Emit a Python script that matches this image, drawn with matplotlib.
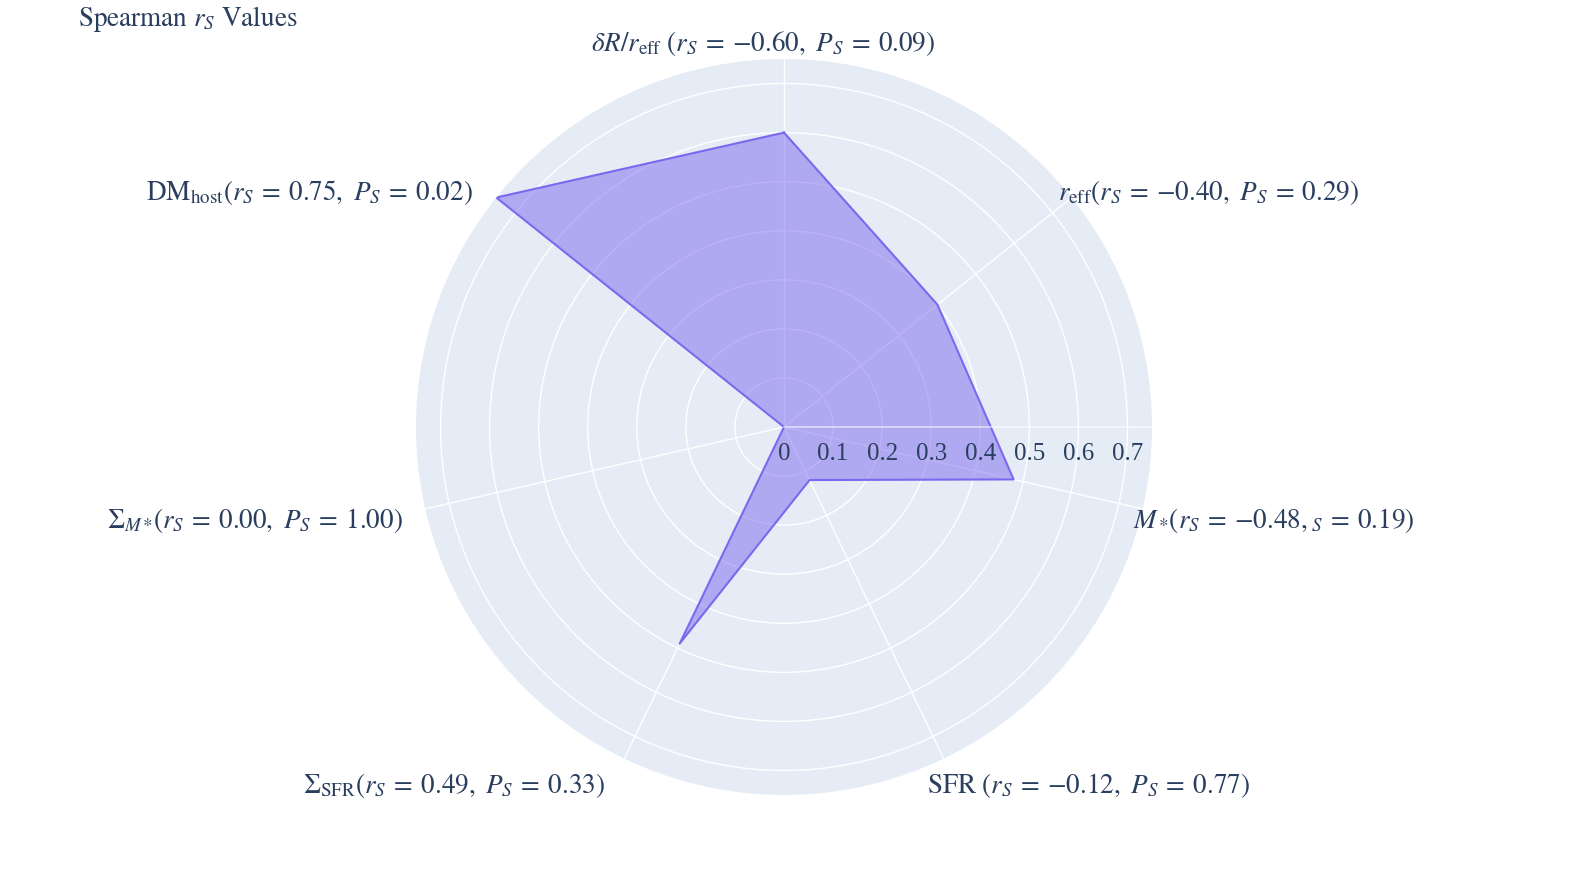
import numpy as np
import matplotlib
matplotlib.use("Agg")
import matplotlib.pyplot as plt

plt.rcParams['mathtext.fontset'] = 'stix'
plt.rcParams['font.family'] = ['STIXGeneral', 'DejaVu Sans']

# ---- data ----
categories = [
    r'$\delta R/r_{\rm eff}\ (r_S \:=\: -0.60,\ P_S \:=\: 0.09)$',
    r'$r_{\rm eff}(r_S \:=\: -0.40,\ P_S \:=\: 0.29)$',
    r'$M_*\!(r_S \:=\: -0.48,_S \:=\: 0.19)$',
    r'${\rm SFR}\ (r_S \:=\: -0.12,\ P_S \:=\: 0.77)$',
    r'$\Sigma_{\rm SFR}(r_S \:=\: 0.49,\ P_S \:=\: 0.33)$',
    r'$\Sigma_{M*}\!(r_S \:=\: 0.00,\ P_S \:=\: 1.00)$',
    r'${\rm DM_{host}}(r_S \:=\: 0.75,\ P_S \:=\: 0.02)$',
]
r_values = [0.60, 0.40, 0.48, 0.12, 0.49, 0.00, 0.75]
radial_ticks = [0, 0.1, 0.2, 0.3, 0.4, 0.5, 0.6, 0.7]
radial_tick_labels = ['0', '0.1', '0.2', '0.3', '0.4', '0.5', '0.6', '0.7']
r_max = 0.75
title_text = r'Spearman $r_S$ Values'

# ---- style ----
TEXT = '#2a3f5f'
BG = '#E5ECF6'
LINE = '#7B68EE'
label_offsets = [(-21, 16, 'center'), (-14, 6, 'left'), (-10, -11, 'left'),
                 (-17, -26, 'left'), (-19, -26, 'right'), (-22, -11, 'right'),
                 (-23, 6, 'right')]

W, H = 1571, 878
fig = plt.figure(figsize=(W / 100, H / 100), dpi=100)
cx, cy, R = 784, 428, 368
ax = fig.add_axes([(cx - R) / W, (H - cy - R) / H, 2 * R / W, 2 * R / H],
                  projection='polar')
ax.set_facecolor(BG)
ax.spines['polar'].set_visible(False)
ax.set_theta_zero_location('N')
ax.set_theta_direction(-1)
ax.set_ylim(0, r_max)
ax.set_axisbelow(True)

n = len(categories)
theta = 2 * np.pi * np.arange(n) / n
ax.set_xticks(theta)
ax.set_xticklabels([])
ax.set_yticks(radial_ticks[1:])
ax.set_yticklabels([])
ax.grid(True, color='white', linewidth=1)
ax.tick_params(length=0)

th_c = np.append(theta, theta[0])
r_c = np.append(r_values, r_values[0])
ax.fill(th_c, r_c, color=LINE, alpha=0.5, linewidth=0, zorder=2)
ax.plot(th_c, r_c, color=LINE, linewidth=1.5, zorder=3)

# radial axis line (at east)
ax.plot([np.pi / 2, np.pi / 2], [0, r_max], color='white', alpha=0.6,
        linewidth=1.2, zorder=4)
for v, lab in zip(radial_ticks, radial_tick_labels):
    ax.annotate(lab, xy=(np.pi / 2, v), xytext=(0, -26), textcoords='offset pixels',
                ha='center', va='center', fontsize=18, color=TEXT,
                family='Liberation Serif', zorder=6, annotation_clip=False)

for t, lab, (dx, dy, ha) in zip(theta, categories, label_offsets):
    ax.annotate(lab, xy=(t, r_max), xytext=(dx, dy), textcoords='offset pixels',
                ha=ha, va='center', fontsize=19.5, color=TEXT,
                annotation_clip=False)

fig.text(78 / W, 1 - 19 / H, title_text, ha='left', va='center',
         fontsize=19.5, color=TEXT)

fig.savefig('out.png', dpi=100)
